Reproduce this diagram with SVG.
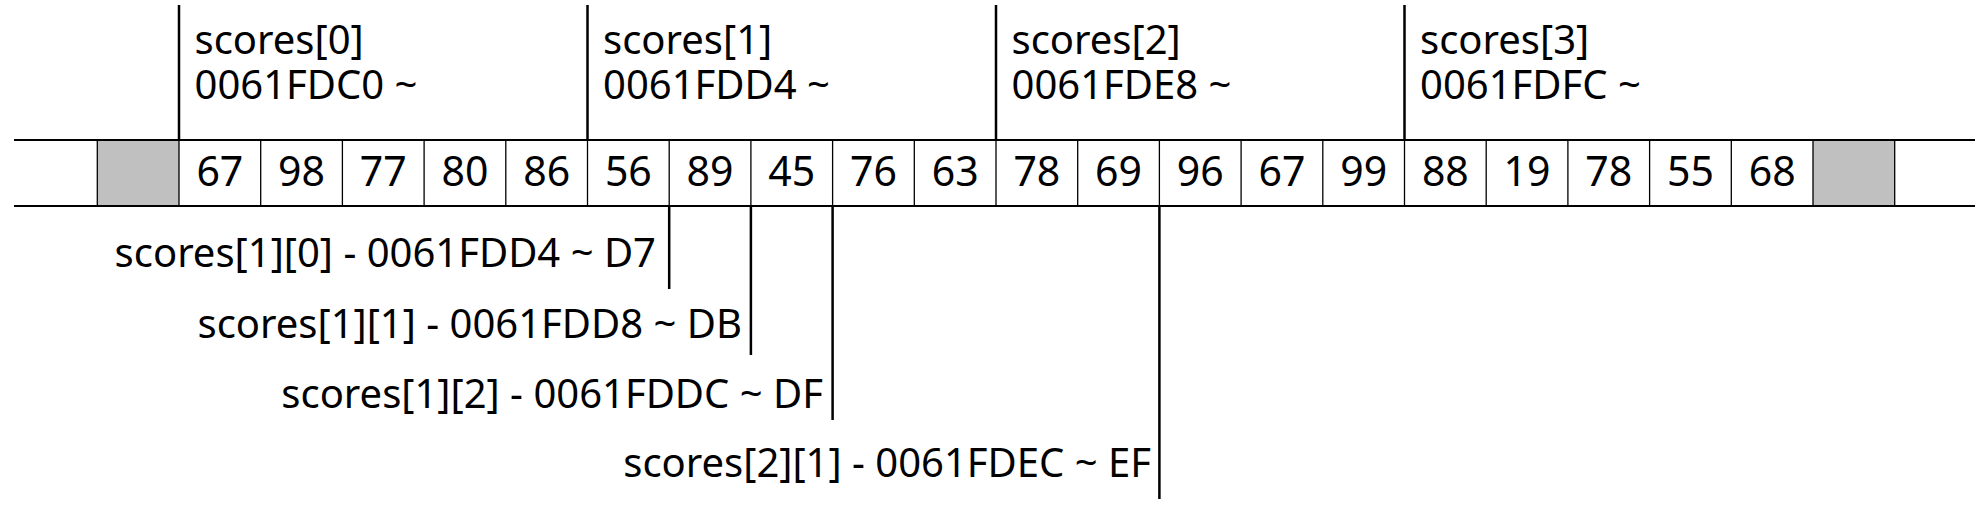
<svg xmlns="http://www.w3.org/2000/svg" width="1985" height="510" viewBox="0 0 1985 510">
<style>
text{font-family:"Noto Sans","Open Sans","DejaVu Sans",sans-serif;font-size:40px;fill:#000}
.num{text-anchor:middle;font-size:41px}
.lab{text-anchor:end}
.thick{stroke:#000;stroke-width:2;fill:none}
.conn{stroke:#000;stroke-width:2.5;fill:none}
.thin{stroke:#000;stroke-width:1.3;fill:none}
.gray{fill:#c0c0c0}
</style>
<rect width="1985" height="510" fill="#fff"/>
<g id="memory-row">
<rect class="gray" x="97.3" y="140" width="81.7" height="66"/>
<rect class="gray" x="1813" y="140" width="81.7" height="66"/>
<path class="thin" d="M97.3 140V206M179 140V206M260.7 140V206M342.4 140V206M424.1 140V206M505.8 140V206M587.5 140V206M669.2 140V206M750.9 140V206M832.6 140V206M914.3 140V206M996 140V206M1077.7 140V206M1159.4 140V206M1241.1 140V206M1322.8 140V206M1404.5 140V206M1486.2 140V206M1567.9 140V206M1649.6 140V206M1731.3 140V206M1813 140V206M1894.7 140V206"/>
<path class="thick" d="M14 140H1975M14 206H1975"/>
<text class="num" x="219.85" y="186">67</text>
<text class="num" x="301.55" y="186">98</text>
<text class="num" x="383.25" y="186">77</text>
<text class="num" x="464.95" y="186">80</text>
<text class="num" x="546.65" y="186">86</text>
<text class="num" x="628.35" y="186">56</text>
<text class="num" x="710.05" y="186">89</text>
<text class="num" x="791.75" y="186">45</text>
<text class="num" x="873.45" y="186">76</text>
<text class="num" x="955.15" y="186">63</text>
<text class="num" x="1036.85" y="186">78</text>
<text class="num" x="1118.55" y="186">69</text>
<text class="num" x="1200.25" y="186">96</text>
<text class="num" x="1281.95" y="186">67</text>
<text class="num" x="1363.65" y="186">99</text>
<text class="num" x="1445.35" y="186">88</text>
<text class="num" x="1527.05" y="186">19</text>
<text class="num" x="1608.75" y="186">78</text>
<text class="num" x="1690.45" y="186">55</text>
<text class="num" x="1772.15" y="186">68</text>
</g>
<g id="connectors">
<path class="conn" d="M179 5V140M587.5 5V140M996 5V140M1404.5 5V140"/>
<path class="conn" d="M669.2 206V289M750.9 206V355M832.6 206V420M1159.4 206V499"/>
</g>
<g id="row0-label">
<text x="194.5" y="54">scores[0]</text>
<text x="194.5" y="99">0061FDC0 ~</text>
</g>
<g id="row1-label">
<text x="603" y="54">scores[1]</text>
<text x="603" y="99">0061FDD4 ~</text>
</g>
<g id="row2-label">
<text x="1011.5" y="54">scores[2]</text>
<text x="1011.5" y="99">0061FDE8 ~</text>
</g>
<g id="row3-label">
<text x="1420" y="54">scores[3]</text>
<text x="1420" y="99">0061FDFC ~</text>
</g>
<g id="elem-1-0">
<text class="lab" x="656" y="267">scores[1][0] - 0061FDD4 ~ D7</text>
</g>
<g id="elem-1-1">
<text class="lab" x="742" y="338">scores[1][1] - 0061FDD8 ~ DB</text>
</g>
<g id="elem-1-2">
<text class="lab" x="823" y="408">scores[1][2] - 0061FDDC ~ DF</text>
</g>
<g id="elem-2-1">
<text class="lab" x="1151" y="477">scores[2][1] - 0061FDEC ~ EF</text>
</g>
</svg>
